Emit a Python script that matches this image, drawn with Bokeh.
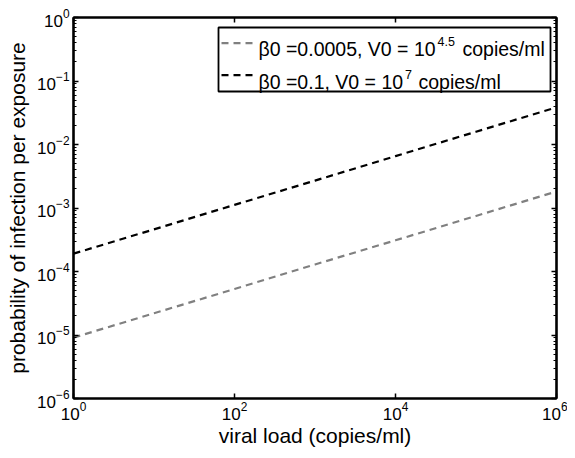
from bokeh.plotting import figure
from bokeh.models import FixedTicker, LogAxis, Label, BoxAnnotation, Arrow
from bokeh.embed import file_html
from bokeh.resources import INLINE

# ---- data ----
viral_load = [1e0, 1e1, 1e2, 1e3, 1e4, 1e5, 1e6]
p_low = [9.1e-6, 2.2e-5, 5.3e-5, 1.29e-4, 3.1e-4, 7.5e-4, 1.82e-3]   # beta0=0.0005, V0=10^4.5
p_high = [1.91e-4, 4.61e-4, 1.12e-3, 2.70e-3, 6.56e-3, 1.59e-2, 3.85e-2]  # beta0=0.1, V0=10^7

x_ticks = [1e0, 1e2, 1e4, 1e6]
y_ticks = [1e-6, 1e-5, 1e-4, 1e-3, 1e-2, 1e-1, 1e0]
y_minor = [k * 10.0 ** e for e in range(-6, 0) for k in range(2, 10)]

legend_main = ["β0 =0.0005, V0 = 10", "β0 =0.1, V0 = 10"]
legend_sup = ["4.5", "7"]
legend_tail = ["copies/ml", "copies/ml"]
legend_colors = ["#808080", "#000000"]

FONT = "Liberation Sans"

W, H = 567, 450
ML, MR, MT, MB = 73, 11, 17, 52
FW, FH = W - ML - MR, H - MT - MB

p = figure(width=W, height=H, x_axis_type="log", y_axis_type="log",
           x_range=(1e0, 1e6), y_range=(1e-6, 1e0),
           output_backend="svg", toolbar_location=None,
           min_border_left=ML, min_border_right=MR,
           min_border_top=MT, min_border_bottom=MB)
p.grid.visible = False
p.outline_line_color = "black"
p.outline_line_width = 2
p.background_fill_color = "white"
p.border_fill_color = "white"

p.line(viral_load, p_low, line_color=legend_colors[0], line_width=2.2, line_dash="7 5")
p.line(viral_load, p_high, line_color=legend_colors[1], line_width=2.2, line_dash="7 5")

def style_axis(ax, labels=True):
    ax.axis_line_color = "black"
    ax.axis_line_width = 2.2
    ax.major_tick_in = 5
    ax.major_tick_out = 0
    ax.minor_tick_in = 3
    ax.minor_tick_out = 0
    ax.major_tick_line_color = "black"
    ax.major_tick_line_width = 1.5
    ax.minor_tick_line_color = "black"
    ax.minor_tick_line_width = 1
    ax.major_label_text_font = FONT
    ax.major_label_text_color = "black"
    if labels:
        ax.major_label_text_font_size = "17px"
        ax.major_label_standoff = 3
    else:
        ax.major_label_text_font_size = "1px"
        ax.major_label_text_alpha = 0
        ax.major_label_standoff = 0

p.xaxis.ticker = FixedTicker(ticks=x_ticks, minor_ticks=[])
p.yaxis.ticker = FixedTicker(ticks=y_ticks, minor_ticks=y_minor)
style_axis(p.xaxis[0])
style_axis(p.yaxis[0])
p.xaxis.axis_label = "viral load (copies/ml)"
p.yaxis.axis_label = "probability of infection per exposure"
for ax in (p.xaxis[0], p.yaxis[0]):
    ax.axis_label_text_font = FONT
    ax.axis_label_text_font_size = "21px"
    ax.axis_label_text_font_style = "normal"
    ax.axis_label_text_color = "black"
p.xaxis.axis_label_standoff = 1
p.yaxis.axis_label_standoff = 5
p.yaxis.major_label_standoff = 4

top = LogAxis(ticker=FixedTicker(ticks=x_ticks, minor_ticks=[]))
right = LogAxis(ticker=FixedTicker(ticks=y_ticks, minor_ticks=y_minor))
style_axis(top, labels=False)
style_axis(right, labels=False)
p.add_layout(top, "above")
p.add_layout(right, "right")

# ---- legend (drawn manually so that the exponents can be superscripts) ----
# page pixel -> frame-relative screen units (y measured upward from frame bottom)
DX = -5  # keep a small gap between legend box and right frame edge

def sx(px):
    return px - ML + DX

def sy(py):
    return (MT + FH) - py

box = BoxAnnotation(left=sx(223), right=sx(555), top=sy(27), bottom=sy(91),
                    left_units="screen", right_units="screen",
                    top_units="screen", bottom_units="screen",
                    fill_color="white", fill_alpha=1.0,
                    line_color="black", line_alpha=1.0, line_width=1.8)
p.add_layout(box)

row_line_y = [42.7, 74.7]
row_base_y = [48.7, 81.3]
sup_x = [442, 409.5]
tail_x = [467, 423]
for i in range(2):
    p.add_layout(Arrow(end=None, x_start=sx(226), y_start=sy(row_line_y[i]),
                       x_end=sx(259), y_end=sy(row_line_y[i]),
                       start_units="screen", end_units="screen",
                       line_color=legend_colors[i], line_width=2.2, line_dash="7 5"))
    p.add_layout(Label(x=sx(263), y=sy(row_base_y[i]), x_units="screen", y_units="screen",
                       text=legend_main[i], text_font=FONT, text_font_size="19.5px",
                       text_color="black", text_baseline="alphabetic"))
    p.add_layout(Label(x=sx(sup_x[i]), y=sy(row_base_y[i] - 7.5), x_units="screen", y_units="screen",
                       text=legend_sup[i], text_font=FONT, text_font_size="12.5px",
                       text_color="black", text_baseline="alphabetic"))
    p.add_layout(Label(x=sx(tail_x[i]), y=sy(row_base_y[i]), x_units="screen", y_units="screen",
                       text=legend_tail[i], text_font=FONT, text_font_size="19.5px",
                       text_color="black", text_baseline="alphabetic"))

open("out.html", "w").write(file_html(p, INLINE))
